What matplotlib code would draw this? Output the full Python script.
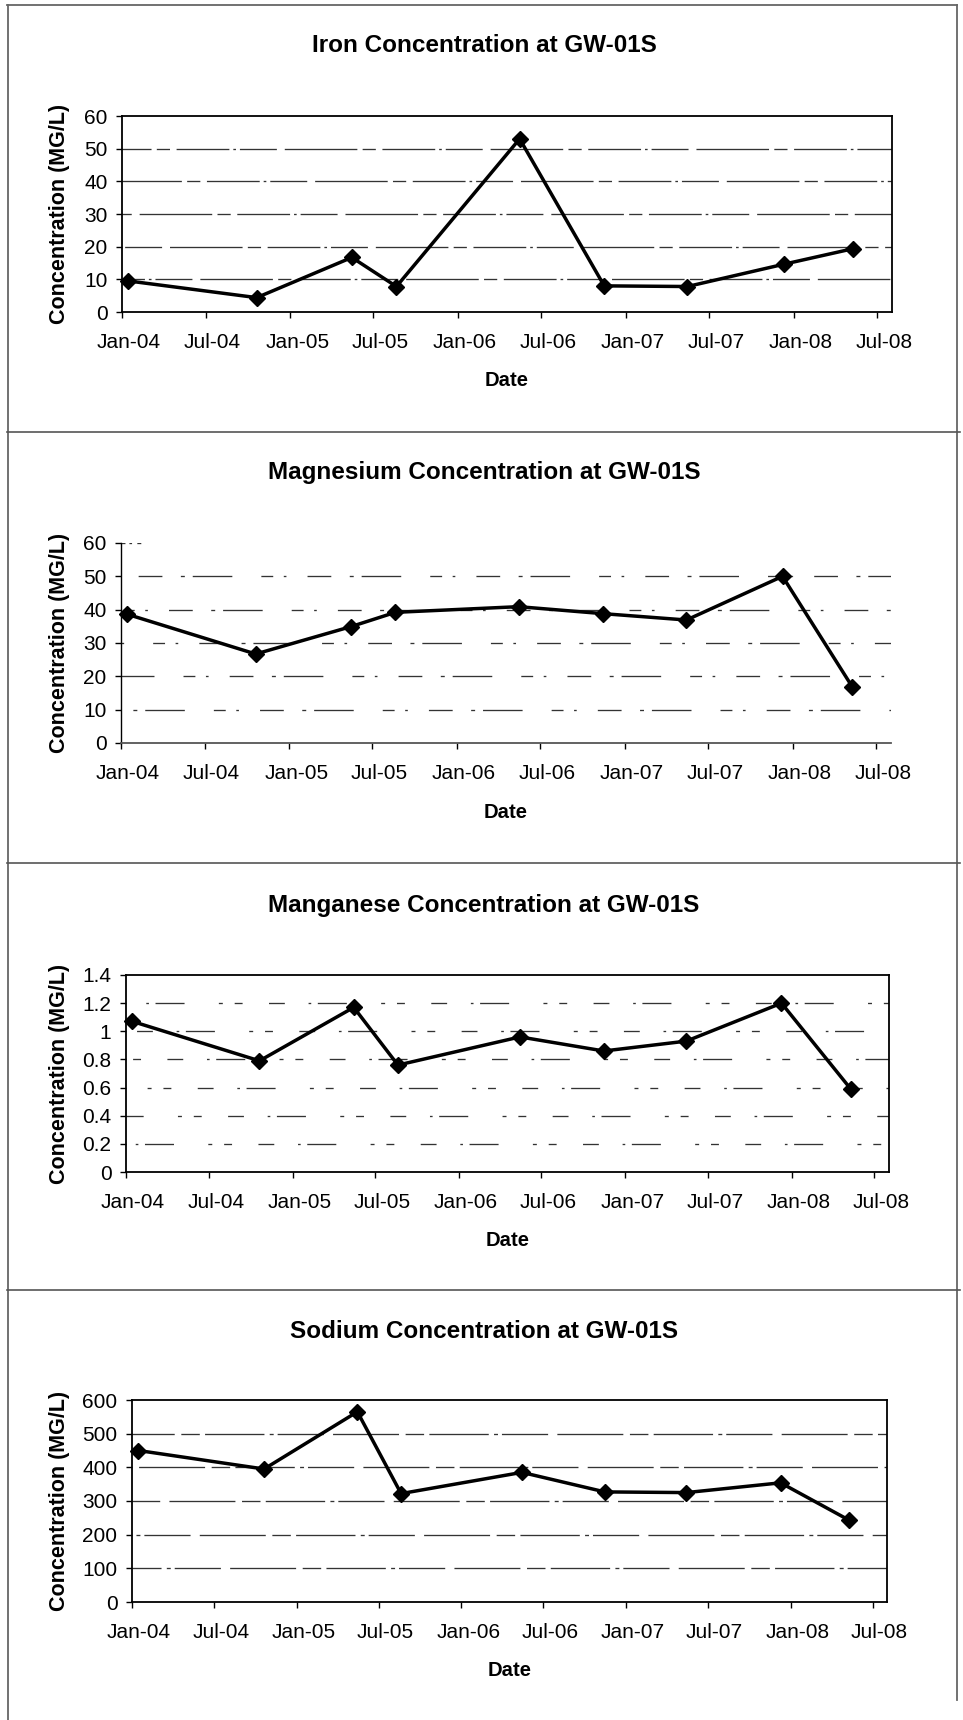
import matplotlib
matplotlib.use("Agg")
import matplotlib.pyplot as plt
import matplotlib.dates as mdates
from matplotlib.lines import Line2D
from matplotlib.ticker import FormatStrFormatter
from matplotlib.transforms import ScaledTranslation
import numpy as np

plt.rcParams['font.family'] = ['Liberation Sans', 'DejaVu Sans']

# ---- sampling data for well GW-01S ----
sample_dates = ["2004-01-15", "2004-10-20", "2005-05-15", "2005-08-20", "2006-05-15",
                "2006-11-15", "2007-05-15", "2007-12-10", "2008-05-10"]
iron = [9.5, 4.4, 16.7, 7.8, 53.0, 8.0, 7.8, 14.6, 19.4]
magnesium = [38.6, 26.7, 34.9, 39.2, 40.9, 38.8, 36.9, 50.0, 16.8]
manganese = [1.07, 0.79, 1.17, 0.76, 0.96, 0.86, 0.93, 1.20, 0.59]
sodium = [450, 395, 565, 322, 385, 327, 325, 354, 243]

titles = ["Iron Concentration at GW-01S", "Magnesium Concentration at GW-01S",
          "Manganese Concentration at GW-01S", "Sodium Concentration at GW-01S"]
iron_ticks = [0, 10, 20, 30, 40, 50, 60]
magnesium_ticks = [0, 10, 20, 30, 40, 50, 60]
manganese_ticks = [0, 0.2, 0.4, 0.6, 0.8, 1.0, 1.2, 1.4]
sodium_ticks = [0, 100, 200, 300, 400, 500, 600]
x_start, x_end = "2004-01-01", "2008-08-02"

W, H, DPI = 963, 1720, 100
fig = plt.figure(figsize=(W / DPI, H / DPI), dpi=DPI)
fig.patch.set_facecolor("white")

dates = np.array(sample_dates, dtype="datetime64[D]")

# panel layout in pixels: (left, right, top, bottom, title_y, date_y)
panels = [
    (122, 892, 116, 312, 45, 380),
    (121, 891, 543, 743, 473, 812),
    (126, 889, 975, 1172, 905, 1240),
    (132, 887, 1400, 1602, 1332, 1670),
]
series = [iron, magnesium, manganese, sodium]
tick_sets = [iron_ticks, magnesium_ticks, manganese_ticks, sodium_ticks]
boxed = [True, False, True, True]
grid_patterns = [
    [40, 3, 2, 3, 28, 6, 55, 4, 10, 5],
    [18, 14, 3, 6, 30, 22, 9, 8, 2, 16],
    [12, 18, 2, 5, 22, 26, 3, 9, 6, 20],
    [45, 4, 3, 3, 35, 7, 50, 5, 14, 4],
]

def fx(px):
    return px / W

def fy(py):
    return 1 - py / H

for i, (l, r, t, b, ty, dy) in enumerate(panels):
    ax = fig.add_axes([fx(l), fy(b), (r - l) / W, (b - t) / H])
    ticks = tick_sets[i]
    ax.set_ylim(ticks[0], ticks[-1])
    ax.set_yticks(ticks)
    ax.set_xlim(np.datetime64(x_start), np.datetime64(x_end))
    ax.xaxis.set_major_locator(mdates.MonthLocator(bymonth=[1, 7]))
    ax.xaxis.set_major_formatter(mdates.DateFormatter("%b-%y"))
    if i == 2:
        ax.yaxis.set_major_formatter(FormatStrFormatter("%g"))

    # broken horizontal gridlines
    pat = grid_patterns[i]
    for k, v in enumerate(ticks[1:-1], start=1):
        ax.axhline(v, color="#333333", lw=0.95, zorder=1,
                   linestyle=((k * 23) % sum(pat), pat))
    if not boxed[i]:
        ax.axhline(ticks[-1], color="#333333", lw=0.95, zorder=1,
                   linestyle=(0, [3, 3, 2, 4, 3, 3000]))

    ax.plot(dates, series[i], color="black", lw=2.5, marker="D", ms=8.5,
            mfc="black", mec="black", zorder=3, clip_on=False)

    for side in ["left", "bottom", "top", "right"]:
        ax.spines[side].set_color("black")
        ax.spines[side].set_linewidth(1.3)
    if not boxed[i]:
        ax.spines["top"].set_visible(False)
        ax.spines["right"].set_visible(False)
        ax.spines["left"].set_linewidth(1.0)
        ax.spines["bottom"].set_color("#555555")

    ax.tick_params(axis="y", direction="out", length=4.5, width=1, pad=6,
                   labelsize=15, colors="black")
    ax.tick_params(axis="x", direction="out", length=4, width=1, pad=11,
                   labelsize=15, colors="black")
    shift = ScaledTranslation(7 / DPI, 0, fig.dpi_scale_trans)
    for lab in ax.get_xticklabels():
        lab.set_transform(lab.get_transform() + shift)

    fig.text(fx(484), fy(ty), titles[i], ha="center", va="center",
             fontsize=17.5, fontweight="bold")
    fig.text(fx(60), fy((t + b) / 2), "Concentration (MG/L)", rotation=90,
             ha="center", va="center", fontsize=15.5, fontweight="bold")
    fig.text(fx((l + r) / 2), fy(dy), "Date", ha="center", va="center",
             fontsize=14.6, fontweight="bold")

# page frame and panel separators
frame_color = "#666666"
def fig_line(x0, y0, x1, y1, lw=1.3, color=frame_color):
    fig.add_artist(Line2D([fx(x0), fx(x1)], [fy(y0), fy(y1)], color=color, lw=lw,
                          transform=fig.transFigure))

fig_line(7, 5, 957, 5)
fig_line(7.5, 5, 7.5, 1720)
fig_line(957, 5, 957, 1700)
for sep in (432, 863, 1290):
    fig_line(7, sep, 960, sep, lw=1.2, color="#555555")

fig.savefig("out.png", dpi=DPI, facecolor="white")
